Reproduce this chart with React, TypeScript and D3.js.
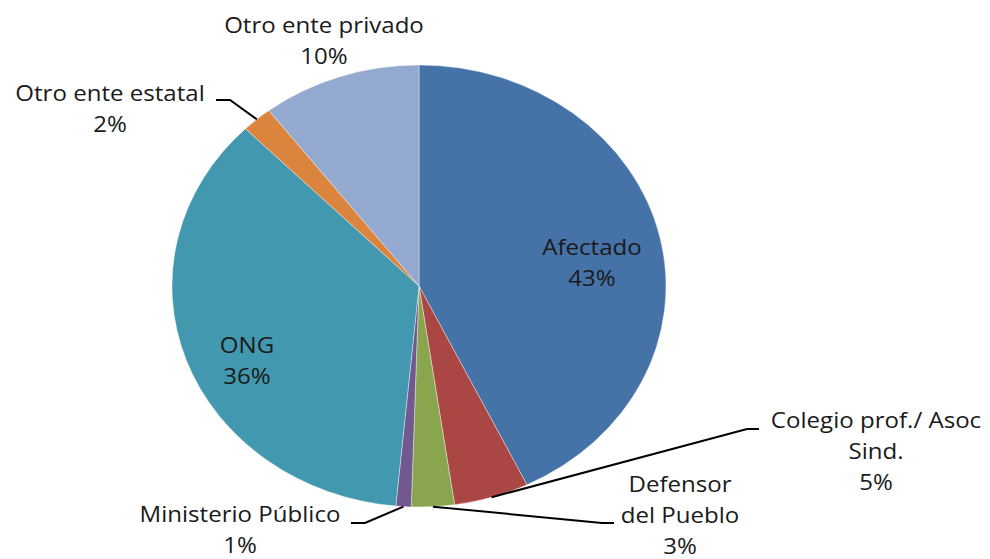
import React from 'react';
import * as d3 from 'd3';

const categories = [
  'Afectado',
  'Colegio prof./ Asoc Sind.',
  'Defensor del Pueblo',
  'Ministerio Público',
  'ONG',
  'Otro ente estatal',
  'Otro ente privado',
];
const shares = [42.8, 4.9, 2.8, 1.0, 36.1, 2.0, 10.4];
const colors = ['#4572A7', '#AA4643', '#89A54E', '#71588F', '#4198AF', '#DB843D', '#93A9CF'];

// label placement: text lines, centre x, first baseline, optional leader elbow/end
const labelLayout = [
  { lines: ['Afectado'], x: 592, y: 255 },
  { lines: ['Colegio prof./ Asoc', 'Sind.'], x: 876, y: 428, elbow: [747, 429], end: [759, 429] },
  { lines: ['Defensor', 'del Pueblo'], x: 680, y: 492, elbow: [602, 523], end: [614, 523] },
  { lines: ['Ministerio Público'], x: 240, y: 522, elbow: [365, 523], end: [351, 523] },
  { lines: ['ONG'], x: 247, y: 353 },
  { lines: ['Otro ente estatal'], x: 110, y: 101, elbow: [230, 100], end: [216, 100] },
  { lines: ['Otro ente privado'], x: 324, y: 33 },
];

const width = 990;
const height = 559;
const cx = 419;
const cy = 286;
const rx = 247;
const ry = 221;
const lineGap = 31;
const textStretch = 1.12;

export default function App() {
  const pie = d3.pie<number>().sort(null).value(d => d);
  const arcs = pie(shares);
  const arc = d3.arc<d3.PieArcDatum<number>>().innerRadius(0).outerRadius(ry);
  const sx = rx / ry;

  return (
    <svg
      width={width}
      height={height}
      style={{ position: 'absolute', left: 0, top: 0, background: '#fff' }}
      fontFamily="'Open Sans', sans-serif"
    >
      <g transform={`translate(${cx},${cy}) scale(${sx},1)`}>
        {arcs.map((a, i) => (
          <path key={i} d={arc(a) || ''} fill={colors[i]} stroke="#fff" strokeOpacity={0.6} strokeWidth={0.6} />
        ))}
      </g>
      {arcs.map((a, i) => {
        const lay = labelLayout[i];
        const mid = (a.startAngle + a.endAngle) / 2;
        const ex = cx + rx * Math.sin(mid);
        const ey = cy - ry * Math.cos(mid);
        const pct = `${Math.round(shares[i])}%`;
        const lines = [...lay.lines, pct];
        return (
          <g key={i}>
            {lay.elbow && (
              <polyline
                points={`${ex},${ey} ${lay.elbow[0]},${lay.elbow[1]} ${lay.end![0]},${lay.end![1]}`}
                fill="none"
                stroke="#000"
                strokeWidth={2}
              />
            )}
            <g transform={`translate(${lay.x},0) scale(${textStretch},1)`}>
              <text textAnchor="middle" fontSize={21.5} fill="#1a1a1a">
                {lines.map((t, j) => (
                  <tspan key={j} x={0} y={lay.y + j * lineGap}>
                    {t}
                  </tspan>
                ))}
              </text>
            </g>
          </g>
        );
      })}
    </svg>
  );
}
